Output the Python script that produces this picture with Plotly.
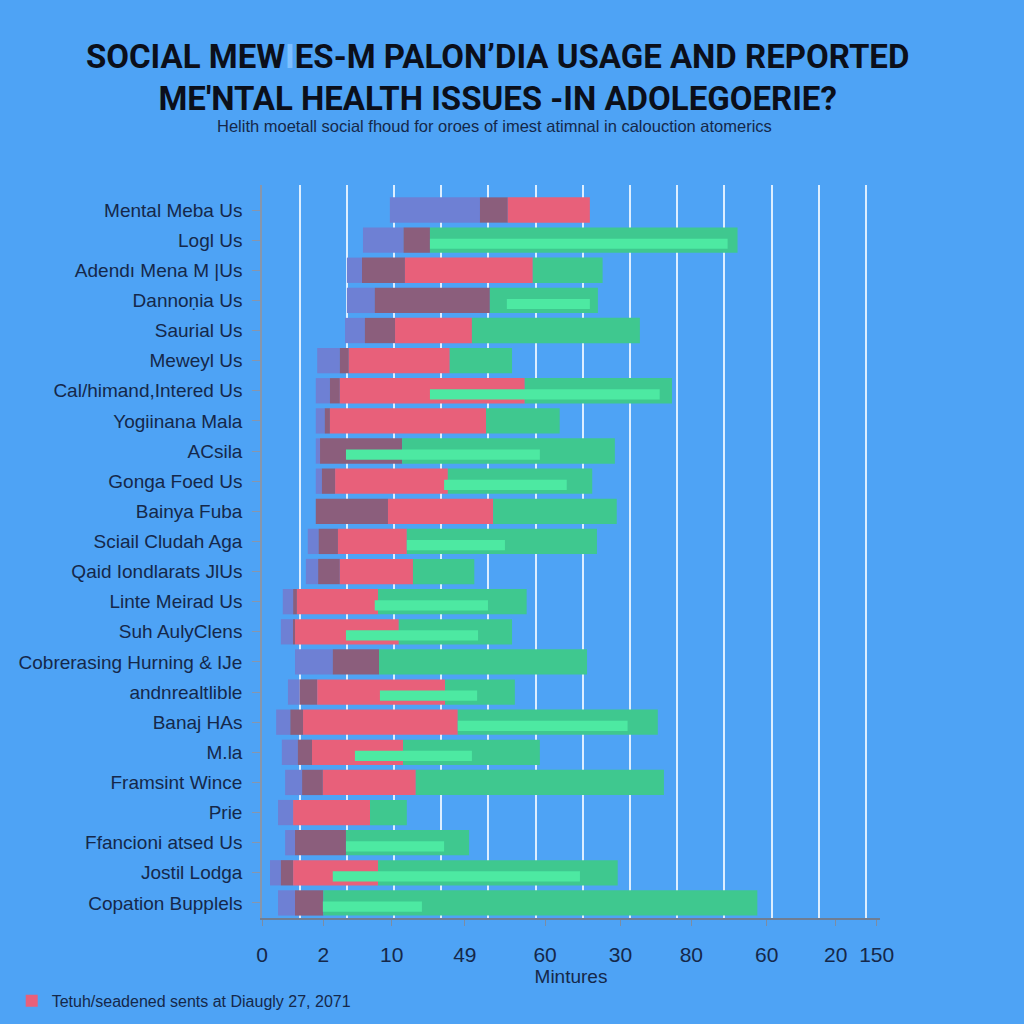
import plotly.graph_objects as go

categories = [
    "Mental Meba Us", "Logl Us", "Adendı Mena M |Us", "Dannoṇia Us", "Saurial Us",
    "Meweyl Us", "Cal/himand,Intered Us", "Yogiinana Mala", "ACsila", "Gonga Foed Us",
    "Bainya Fuba", "Sciail Cludah Aga", "Qaid Iondlarats JlUs", "Linte Meirad Us",
    "Suh AulyClens", "Cobrerasing Hurning & IJe", "andnrealtlible", "Banaj HAs",
    "M.la", "Framsint Wince", "Prie", "Ffancioni atsed Us", "Jostil Lodga",
    "Copation Bupplels",
]

# segment boundaries per category (minutes): blue start, mauve start, red start, green start, green end
blue_start  = [27.1, 21.4, 18.0, 18.0, 17.6, 11.7, 11.4, 11.4, 11.4, 11.4, 11.4, 9.7, 9.3, 4.4, 4.0, 7.0, 5.5, 3.0, 4.2, 4.9, 3.4, 4.9, 1.7, 3.4]
mauve_start = [46.2, 30.0, 21.2, 23.9, 21.8, 16.5, 14.4, 13.3, 12.3, 12.7, 11.4, 12.0, 11.9, 6.6, 6.6, 15.0, 8.0, 6.0, 7.6, 8.5, 6.6, 7.0, 4.0, 7.0]
red_start   = [52.1, 35.6, 30.3, 48.3, 28.2, 18.4, 16.5, 14.4, 29.7, 15.5, 26.7, 16.1, 16.5, 7.4, 7.0, 24.8, 11.7, 8.7, 10.6, 12.9, 6.6, 17.8, 6.6, 13.0]
green_start = [69.5, 35.6, 57.4, 48.3, 44.5, 39.8, 55.7, 47.5, 29.7, 39.4, 49.0, 30.7, 32.0, 24.6, 29.0, 24.8, 38.8, 41.5, 29.9, 32.6, 22.9, 17.8, 24.6, 13.0]
green_end   = [69.5, 100.8, 72.2, 71.2, 80.1, 53.0, 86.9, 63.1, 74.8, 70.0, 75.2, 71.0, 45.0, 56.1, 53.0, 68.9, 53.6, 83.9, 58.9, 85.2, 30.7, 43.9, 75.4, 105.0]

# lighter green stripe (start, end); None where absent
light_start = [None, 35.6, None, 51.9, None, None, 35.6, None, 17.8, 38.6, None, 30.7, None, 23.9, 17.8, None, 25.0, 41.5, 19.7, None, None, 17.8, 15.0, 12.9]
light_end   = [None, 98.7, None, 69.5, None, None, 84.3, None, 58.9, 64.6, None, 51.5, None, 47.9, 45.8, None, 45.6, 77.5, 44.5, None, None, 38.6, 67.4, 33.9]

x_tick_pos = [0, 13, 27.5, 43, 60, 76, 91, 107, 121.6, 130.3]
x_tick_text = ["0", "2", "10", "49", "60", "30", "80", "60", "20", "150"]

legend_name = "Tetuh/seadened sents at Diaugly 27, 2071"

idx = list(range(len(categories)))

def seg(a, b):
    return [bb - aa if (aa is not None and bb is not None and bb > aa) else None for aa, bb in zip(a, b)]

fig = go.Figure()
segments = [
    (blue_start, mauve_start, "#6E80D4", False, "Blue"),
    (mauve_start, red_start, "#8B5E7C", False, "Mauve"),
    (red_start, green_start, "#E8607A", True, legend_name),
    (green_start, green_end, "#3FC88F", False, "Green"),
]
for s, e, col, show, name in segments:
    fig.add_trace(go.Bar(
        y=idx, x=seg(s, e), base=s, orientation="h",
        marker=dict(color=col, line=dict(width=0)), width=0.84,
        name=name, showlegend=show, hoverinfo="skip",
    ))
fig.add_trace(go.Bar(
    y=idx, x=seg(light_start, light_end), base=light_start, orientation="h",
    marker=dict(color="#4DE9A2", line=dict(width=0)), width=0.34, offset=-0.05,
    name="Light", showlegend=False, hoverinfo="skip",
))

bg = "#4EA3F5"
fig.update_layout(
    barmode="overlay",
    width=1024, height=1024,
    paper_bgcolor=bg, plot_bgcolor=bg,
    margin=dict(l=262, r=144, t=185, b=106, autoexpand=False),
    font=dict(family="Liberation Sans, Arial, sans-serif", color="#15284A"),
    title=dict(
        text="<b>SOCIAL MEW<span style='color:#7fc0ff'>I</span>ES-M PALON’DIA USAGE AND REPORTED<br>ME'NTAL HEALTH ISSUES -IN ADOLEGOERIE?</b>",
        x=0.486, xanchor="center", y=0.934, yanchor="middle",
        font=dict(family="Roboto, Liberation Sans, sans-serif", size=33, color="#0B0F1A"),
    ),
    xaxis=dict(
        range=[0, 131], automargin=False,
        tickmode="array", tickvals=x_tick_pos, ticktext=x_tick_text,
        showgrid=False, zeroline=False,
        ticks="outside", ticklen=6, tickcolor="#7C8CA3",
        ticklabelstandoff=11,
        showline=True, linecolor="#6F7E94", linewidth=2,
        tickfont=dict(size=21, color="#15284A"),
        minor=dict(tickmode="linear", tick0=8, dtick=10, showgrid=True,
                   gridcolor="#DCEEFF", gridwidth=1.5, ticks=""),
        title=dict(text="Mintures", font=dict(size=19, color="#15284A"), standoff=2),
    ),
    yaxis=dict(
        range=[23.5, -0.83], automargin=False,
        tickmode="array", tickvals=idx, ticktext=categories,
        showgrid=False, zeroline=False,
        ticks="outside", ticklen=8, tickcolor="#8796AC",
        ticklabelstandoff=6,
        showline=True, linecolor="#8796AC", linewidth=1.5,
        tickfont=dict(size=19, color="#15284A"),
    ),
    legend=dict(
        x=-0.405, y=-0.113, xanchor="left", yanchor="middle",
        bgcolor="rgba(0,0,0,0)", font=dict(size=16, color="#15284A"),
        orientation="h",
    ),
    annotations=[dict(
        text="Helith moetall social fhoud for oroes of imest atimnal in calouction atomerics",
        xref="paper", yref="paper", x=0.377, y=1.0805, xanchor="center", yanchor="middle",
        showarrow=False, font=dict(size=16.5, color="#15284A"),
    )],
)

fig.write_html(
    "out.html",
    config={"displayModeBar": False},
    post_script="document.body.style.margin='0';document.body.style.background='#4EA3F5';document.body.style.overflow='hidden';",
)
